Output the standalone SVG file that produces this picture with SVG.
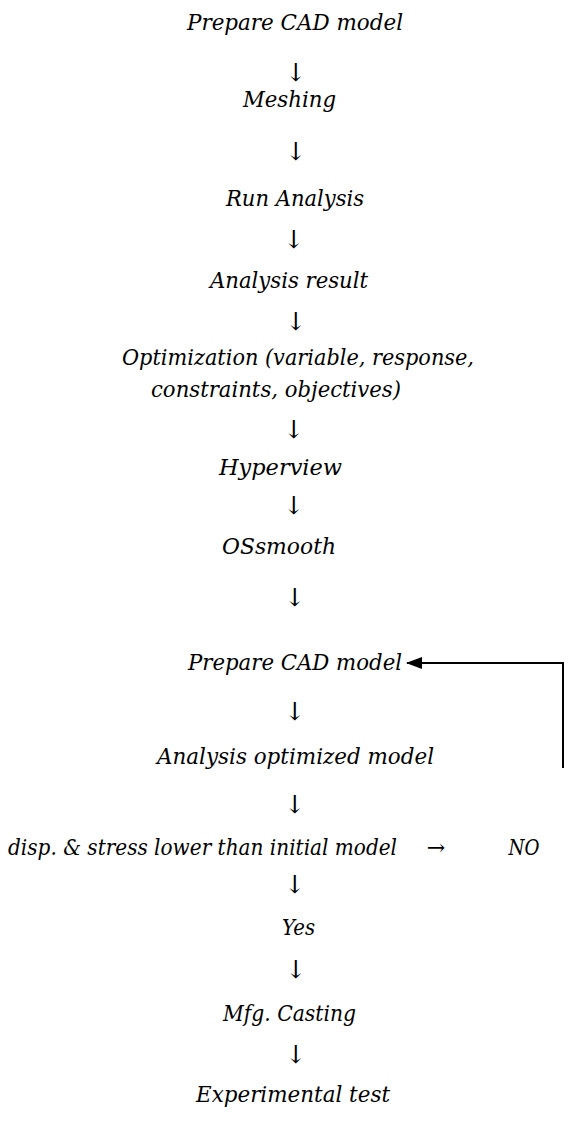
<svg xmlns="http://www.w3.org/2000/svg" width="571" height="1131" viewBox="0 0 571 1131">
  <style>
    text { font-family: "DejaVu Serif", "Liberation Serif", serif; font-style: italic; font-size: 22px; fill: #000; text-anchor: middle; }
    .arr { font-size: 25px; }
    .side { font-size: 22px; }
    .link { fill: none; stroke: #000; stroke-width: 2; }
  </style>
  <defs>
    <marker id="head" viewBox="0 0 16 12" refX="15" refY="6" markerWidth="16" markerHeight="12" markerUnits="userSpaceOnUse" orient="auto">
      <path d="M0,0 L16,6 L0,12 z" fill="#000"/>
    </marker>
  </defs>

  <!-- flow steps; widths are pinned with textLength so every line keeps its extent -->
  <g id="n-prepare-cad"><text x="295" y="30" textLength="216" lengthAdjust="spacingAndGlyphs">Prepare CAD model</text></g>
  <g id="n-meshing"><text x="289.5" y="107" textLength="93" lengthAdjust="spacingAndGlyphs">Meshing</text></g>
  <g id="n-run-analysis"><text x="295" y="206" textLength="138" lengthAdjust="spacingAndGlyphs">Run Analysis</text></g>
  <g id="n-analysis-result"><text x="289" y="288" textLength="158" lengthAdjust="spacingAndGlyphs">Analysis result</text></g>
  <g id="n-optimization">
    <text x="298" y="365" textLength="352" lengthAdjust="spacingAndGlyphs">Optimization (variable, response,</text>
    <text x="276" y="397" textLength="250" lengthAdjust="spacingAndGlyphs">constraints, objectives)</text>
  </g>
  <g id="n-hyperview"><text x="280.5" y="475" textLength="123" lengthAdjust="spacingAndGlyphs">Hyperview</text></g>
  <g id="n-ossmooth"><text x="279" y="554" textLength="114" lengthAdjust="spacingAndGlyphs">OSsmooth</text></g>
  <g id="n-prepare-cad-2"><text x="295" y="670" textLength="214" lengthAdjust="spacingAndGlyphs">Prepare CAD model</text></g>
  <g id="n-analysis-optimized"><text x="295.5" y="764" textLength="277" lengthAdjust="spacingAndGlyphs">Analysis optimized model</text></g>
  <g id="n-decision"><text x="202.5" y="855" textLength="389" lengthAdjust="spacingAndGlyphs">disp. &amp; stress lower than initial model</text></g>
  <g id="n-no"><text x="524" y="855" textLength="31" lengthAdjust="spacingAndGlyphs">NO</text></g>
  <g id="n-yes"><text x="298.5" y="935" textLength="33" lengthAdjust="spacingAndGlyphs">Yes</text></g>
  <g id="n-casting"><text x="289.5" y="1021" textLength="133" lengthAdjust="spacingAndGlyphs">Mfg. Casting</text></g>
  <g id="n-test"><text x="293" y="1102" textLength="194" lengthAdjust="spacingAndGlyphs">Experimental test</text></g>

  <g id="connectors">
    <text class="arr" x="296" y="81">↓</text>
    <text class="arr" x="296" y="160">↓</text>
    <text class="arr" x="294" y="248">↓</text>
    <text class="arr" x="296" y="330">↓</text>
    <text class="arr" x="294" y="438">↓</text>
    <text class="arr" x="294" y="514">↓</text>
    <text class="arr" x="295" y="606">↓</text>
    <text class="arr" x="295" y="720">↓</text>
    <text class="arr" x="295" y="813">↓</text>
    <text class="side" x="436" y="855">→</text>
    <text class="arr" x="295" y="893">↓</text>
    <text class="arr" x="296" y="978">↓</text>
    <text class="arr" x="296" y="1063">↓</text>
    <polyline class="link" points="563,768 563,663 407,663" marker-end="url(#head)"/>
  </g>
</svg>
